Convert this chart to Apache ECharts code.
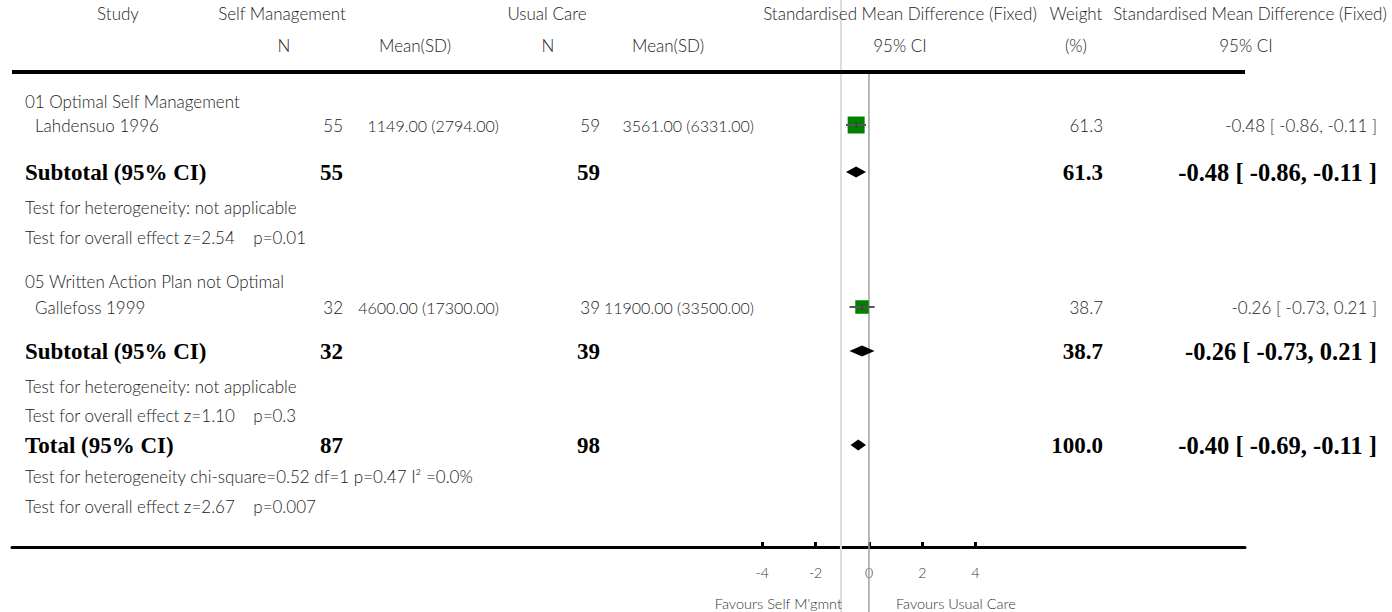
<!DOCTYPE html>
<html>
<head>
<meta charset="utf-8">
<script src="https://cdn.jsdelivr.net/npm/echarts@6/dist/echarts.min.js"></script>
<style>
  html, body { margin: 0; padding: 0; background: #fff; }
  #chart { width: 1392px; height: 612px; }
</style>
</head>
<body>
<div id="chart"></div>
<script>
// ---- Study-level data ----
const groups = ['01 Optimal Self Management', '05 Written Action Plan not Optimal'];
const studies = ['Lahdensuo 1996', 'Gallefoss 1999'];
const smN = [55, 32];
const smMean = ['1149.00', '4600.00'];
const smSD = ['2794.00', '17300.00'];
const ucN = [59, 39];
const ucMean = ['3561.00', '11900.00'];
const ucSD = ['6331.00', '33500.00'];
const studySMD = [-0.48, -0.26];
const studyLo = [-0.86, -0.73];
const studyHi = [-0.11, 0.21];
const studyWeight = [61.3, 38.7];

// ---- Pooled estimates: two subtotals and the overall total ----
const pooledLabels = ['Subtotal (95% CI)', 'Subtotal (95% CI)', 'Total (95% CI)'];
const pooledSmN = [55, 32, 87];
const pooledUcN = [59, 39, 98];
const pooledSMD = [-0.48, -0.26, -0.40];
const pooledLo = [-0.86, -0.73, -0.69];
const pooledHi = [-0.11, 0.21, -0.11];
const pooledWeight = [61.3, 38.7, 100.0];
const heterogeneity = [
  'Test for heterogeneity: not applicable',
  'Test for heterogeneity: not applicable',
  'Test for heterogeneity chi-square=0.52 df=1 p=0.47 I\u00b2 =0.0%'
];
const overallEffect = [
  'Test for overall effect z=2.54\u00a0\u00a0\u00a0\u00a0p=0.01',
  'Test for overall effect z=1.10\u00a0\u00a0\u00a0\u00a0p=0.3',
  'Test for overall effect z=2.67\u00a0\u00a0\u00a0\u00a0p=0.007'
];

// ---- Axis ----
const tickValues = [-4, -2, 0, 2, 4];
const faintLineAt = -1.05;
const favoursLeft = "Favours Self M'gmnt";
const favoursRight = 'Favours Usual Care';

// ---- Row layout (vertical offsets below the header rule) ----
const rowGroup = [29, 209];
const rowStudy = [53, 235];
const rowPooled = [100, 279, 373];
const rowHet = [135, 314, 404];
const rowEffect = [165, 343, 434];

const SANS = 'Lato, "DejaVu Sans", sans-serif';
const SERIF = '"Liberation Serif", "DejaVu Serif", serif';

const fmt2 = v => v.toFixed(2);
const ciText = (m, lo, hi) => `${fmt2(m)} [ ${fmt2(lo)}, ${fmt2(hi)} ]`;

const chart = echarts.init(document.getElementById('chart'), null, { renderer: 'svg' });

chart.setOption({
  animation: false,
  grid: { left: 12, right: 147, top: 72, bottom: 65, containLabel: false },
  xAxis: {
    type: 'value',
    min: -32.13,
    max: 14.1,
    splitLine: { show: false },
    axisLine: { show: true, onZero: false, lineStyle: { color: '#000', width: 3 } },
    axisTick: { show: true, inside: true, length: 5, lineStyle: { color: '#000', width: 3 }, customValues: tickValues },
    axisLabel: { show: true, customValues: tickValues, margin: 18, color: '#333', fontSize: 14, fontFamily: SANS, fontWeight: 300 }
  },
  yAxis: { type: 'value', min: 0, max: 475, inverse: true, show: false },
  series: [
    {
      // study point estimates, square area by weight
      type: 'scatter',
      z: 3,
      symbol: 'rect',
      symbolSize: v => 2.17 * Math.sqrt(v[2]),
      itemStyle: { color: '#008000', opacity: 1 },
      data: studies.map((s, i) => [studySMD[i], rowStudy[i], studyWeight[i]])
    },
    {
      // study confidence intervals
      type: 'custom',
      z: 4,
      renderItem: (params, api) => {
        const y = api.value(3);
        const a = api.coord([api.value(1), y]);
        const b = api.coord([api.value(2), y]);
        const c = api.coord([api.value(0), y]);
        return {
          type: 'group',
          children: [
            { type: 'line', shape: { x1: a[0], y1: a[1], x2: b[0], y2: b[1] }, style: { stroke: '#555', lineWidth: 2 } },
            { type: 'line', shape: { x1: c[0], y1: c[1] - 3, x2: c[0], y2: c[1] + 3 }, style: { stroke: '#333', lineWidth: 1 } }
          ]
        };
      },
      data: studies.map((s, i) => [studySMD[i], studyLo[i], studyHi[i], rowStudy[i]])
    },
    {
      // pooled diamonds
      type: 'custom',
      z: 4,
      renderItem: (params, api) => {
        const y = api.value(3);
        const l = api.coord([api.value(1), y]);
        const r = api.coord([api.value(2), y]);
        const m = api.coord([api.value(0), y]);
        const h = 5.5;
        return {
          type: 'polygon',
          shape: { points: [[l[0], l[1]], [m[0], m[1] - h], [r[0], r[1]], [m[0], m[1] + h]] },
          style: { fill: '#000' }
        };
      },
      data: pooledSMD.map((m, i) => [m, pooledLo[i], pooledHi[i], rowPooled[i]])
    }
  ]
});

// ---- Table text and rules placed against the same axes ----
const px = v => chart.convertToPixel({ xAxisIndex: 0 }, v);
const py = v => chart.convertToPixel({ yAxisIndex: 0 }, v);

const els = [];
function txt(text, x, y, align, size, family, weight, color) {
  els.push({
    type: 'text', z: 10, silent: true,
    style: {
      text: String(text), x: x, y: y, align: align, verticalAlign: 'middle',
      fontSize: size, fontFamily: family, fontWeight: weight || 300, fill: color || '#222'
    }
  });
}
function line(x1, y1, x2, y2, color, width, z) {
  els.push({ type: 'line', z: z, silent: true, shape: { x1, y1, x2, y2 }, style: { stroke: color, lineWidth: width } });
}

const zeroX = px(0);
const gridTop = py(0);

// reference lines
line(px(faintLineAt), 0, px(faintLineAt), 612, '#dcdcdc', 2, 1);
line(zeroX, gridTop, zeroX, 612, '#a0a0a0', 1.5, 1);
// header rule
line(12, gridTop, 1245, gridTop, '#000', 4, 5);

// headers
const HS = 17;
const hy1 = 13, hy2 = 45;
txt('Study', 118, hy1, 'center', HS, SANS);
txt('Self Management', 282, hy1, 'center', HS, SANS);
txt('Usual Care', 547, hy1, 'center', HS, SANS);
txt('Standardised Mean Difference (Fixed)', 900, hy1, 'center', HS, SANS);
txt('Weight', 1076, hy1, 'center', HS, SANS);
txt('Standardised Mean Difference (Fixed)', 1250, hy1, 'center', HS, SANS);
txt('N', 284, hy2, 'center', HS, SANS);
txt('Mean(SD)', 415, hy2, 'center', HS, SANS);
txt('N', 548, hy2, 'center', HS, SANS);
txt('Mean(SD)', 668, hy2, 'center', HS, SANS);
txt('95% CI', 900, hy2, 'center', HS, SANS);
txt('(%)', 1076, hy2, 'center', HS, SANS);
txt('95% CI', 1246, hy2, 'center', HS, SANS);

// body columns
const colLeft = 25, colStudy = 35, colSmN = 343, colSmMean = 499, colUcN = 600, colUcMean = 754, colW = 1103, colCI = 1377;
const TS = 17, NS = 16, BS = 23, BCI = 24.5;
studies.forEach((s, i) => {
  txt(groups[i], colLeft, py(rowGroup[i]), 'left', TS, SANS);
  const y = py(rowStudy[i]);
  txt(s, colStudy, y, 'left', TS, SANS);
  txt(smN[i], colSmN, y, 'right', TS, SANS);
  txt(`${smMean[i]} (${smSD[i]})`, colSmMean, y, 'right', NS, SANS);
  txt(ucN[i], colUcN, y, 'right', TS, SANS);
  txt(`${ucMean[i]} (${ucSD[i]})`, colUcMean, y, 'right', NS, SANS);
  txt(studyWeight[i].toFixed(1), colW, y, 'right', TS, SANS);
  txt(ciText(studySMD[i], studyLo[i], studyHi[i]), colCI, y, 'right', TS, SANS);
});
pooledSMD.forEach((m, i) => {
  const y = py(rowPooled[i]);
  txt(pooledLabels[i], colLeft, y, 'left', BS, SERIF, 'bold', '#000');
  txt(pooledSmN[i], colSmN, y, 'right', BS, SERIF, 'bold', '#000');
  txt(pooledUcN[i], colUcN, y, 'right', BS, SERIF, 'bold', '#000');
  txt(pooledWeight[i].toFixed(1), colW, y, 'right', BS, SERIF, 'bold', '#000');
  txt(ciText(m, pooledLo[i], pooledHi[i]), colCI, y, 'right', BCI, SERIF, 'bold', '#000');
  txt(heterogeneity[i], colLeft, py(rowHet[i]), 'left', TS, SANS);
  txt(overallEffect[i], colLeft, py(rowEffect[i]), 'left', TS, SANS);
});

// favours labels
txt(favoursLeft, zeroX - 27, 603, 'right', 14.5, SANS, 300, '#333');
txt(favoursRight, zeroX + 27, 603, 'left', 14.5, SANS, 300, '#333');

chart.setOption({ graphic: { elements: els } });
</script>
</body>
</html>
